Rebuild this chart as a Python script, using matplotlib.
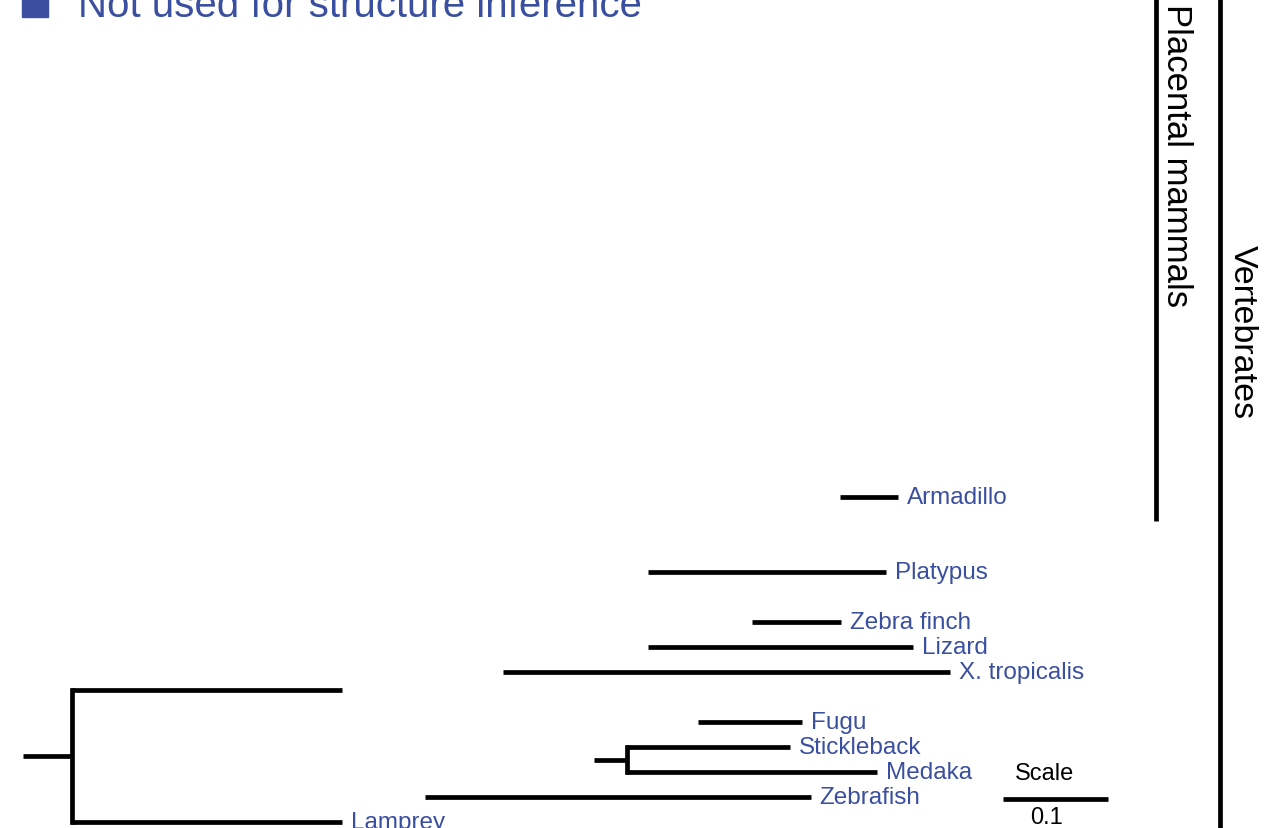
import matplotlib
matplotlib.use("Agg")
import matplotlib.pyplot as plt
from matplotlib.patches import Rectangle

plt.rcParams['font.family'] = ['Liberation Sans', 'DejaVu Sans']

BLUE = '#3b4fa0'

# tip branches: name, row (bottom = 0), branch start / end in substitutions per site
tips = ["Armadillo", "Platypus", "Zebra finch", "Lizard", "X. tropicalis",
        "Fugu", "Stickleback", "Medaka", "Zebrafish", "Lamprey"]
tip_row = [13, 10, 8, 7, 6, 4, 3, 2, 1, 0]
tip_start = [0.778, 0.595, 0.694, 0.595, 0.457, 0.643, 0.575, 0.575, 0.383, 0.047]
tip_end = [0.833, 0.822, 0.779, 0.848, 0.883, 0.742, 0.730, 0.813, 0.750, 0.304]

# internal nodes: x, stub start, row of stub, child rows
nodes_x = [0.047, 0.575]
nodes_stub = [0.0, 0.544]
nodes_row = [2.65, 2.5]
nodes_children = [(0, 5.3), (2, 3)]

# unlabelled branch leaving the root
other_start = [0.047]
other_end = [0.304]
other_row = [5.3]

clades = ["Placental mammals", "Vertebrates"]
clade_x = [1.079, 1.140]
clade_lo = [12.04, -0.5]
clade_hi = [34.0, 34.0]

scale_len = 0.1
scale_x0 = 0.9333

fig = plt.figure(figsize=(12.78, 8.29), dpi=100)
ax = fig.add_axes([0, 0, 1, 1])
ax.set_xlim(-23 / 1050, 1255 / 1050)
ax.set_ylim(-0.24, 32.92)
ax.axis('off')

lw = 3.4
for name, r, s, e in zip(tips, tip_row, tip_start, tip_end):
    ax.plot([s, e], [r, r], color='black', lw=lw, solid_capstyle='butt')
    ax.text(e + 0.0086, r, name, color=BLUE, fontsize=17.5, va='center', ha='left')

for s, e, r in zip(other_start, other_end, other_row):
    ax.plot([s, e], [r, r], color='black', lw=lw, solid_capstyle='butt')

for x, st, r, (c0, c1) in zip(nodes_x, nodes_stub, nodes_row, nodes_children):
    ax.plot([st, x], [r, r], color='black', lw=lw, solid_capstyle='butt')
    ax.plot([x, x], [c0, c1], color='black', lw=lw, solid_capstyle='projecting')

for name, x, lo, hi in zip(clades, clade_x, clade_lo, clade_hi):
    ax.plot([x, x], [lo, hi], color='black', lw=lw, solid_capstyle='butt')
ax.text(1.099, 32.75, clades[0], rotation=-90, fontsize=25, ha='center', va='top')
ax.text(1.161, 19.64, clades[1], rotation=-90, fontsize=24.5, ha='center', va='center')

# scale bar
ax.plot([scale_x0, scale_x0 + scale_len], [0.92, 0.92], color='black', lw=lw,
        solid_capstyle='butt')
ax.text(0.973, 1.96, "Scale", fontsize=17, ha='center', va='center')
ax.text(0.975, 0.2, str(scale_len), fontsize=17, ha='center', va='center')

# legend entry (cut at top edge)
ax.add_patch(Rectangle((-0.001, 32.2), 0.0248, 1.04, color=BLUE, clip_on=False))
ax.text(0.0524, 32.24, "Not used for structure inference", color=BLUE, fontsize=29,
        ha='left', va='baseline')

plt.savefig("out.png", dpi=100)
